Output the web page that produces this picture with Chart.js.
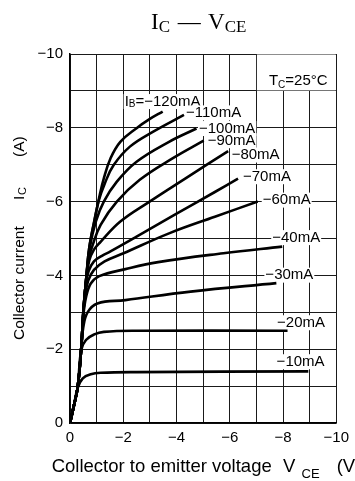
<!DOCTYPE html>
<html>
<head>
<meta charset="utf-8">
<script src="https://cdn.jsdelivr.net/npm/chart.js@4.4.1/dist/chart.umd.min.js"></script>
<style>
  body { margin: 0; background: #fff; }
  #wrap { position: relative; width: 355px; height: 481px; overflow: hidden; font-family: 'Liberation Sans', Arial, sans-serif; color: #000; }
  #wrap canvas { position: absolute; left: 0; top: 0; }
  .txt { position: absolute; white-space: nowrap; line-height: 1; }
  .title { font-family: 'Liberation Serif', 'Times New Roman', serif; font-size: 23px; left: 151px; top: 10px; }
  .title .sb { font-size: 17px; position: relative; top: 3px; }
  .title .dash { margin: 0 2px; }
  .xt { font-size: 18.5px; top: 457px; }
  .xt.sb { font-size: 13px; top: 467px; }
  #ytitle { position: absolute; left: 11px; top: 340px; width: 230px; height: 20px; transform: rotate(-90deg); transform-origin: left top; }
  #ytitle .txt { font-size: 15.5px; top: 0; }
  #ytitle .sb { font-size: 11px; top: 6px; }
</style>
</head>
<body>
<div id="wrap">
  <canvas id="ic-vce" width="355" height="481"></canvas>
  <div class="txt title">I<span class="sb">C</span> <span class="dash">—</span> V<span class="sb">CE</span></div>
  <div class="txt xt" style="left:51.7px">Collector to emitter voltage</div>
  <div class="txt xt" style="left:283px">V</div>
  <div class="txt xt sb" style="left:301.5px">CE</div>
  <div class="txt xt" style="left:336.7px">(V)</div>
  <div id="ytitle">
    <span class="txt" style="left:0">Collector current</span>
    <span class="txt" style="left:140px">I</span>
    <span class="txt sb" style="left:145px">C</span>
    <span class="txt" style="left:183px">(A)</span>
  </div>
</div>
<script>
// base current curves, [Vce (V), Ic (A)]
const ib120 = [[0,0],[-0.14,-0.45],[-0.29,-0.98],[-0.42,-2.0],[-0.5,-3.0],[-0.62,-4.0],[-0.72,-4.73],[-0.91,-5.46],[-1.09,-6.09],[-1.27,-6.63],[-1.52,-7.17],[-1.89,-7.62],[-2.5,-7.99],[-3.0,-8.24],[-3.48,-8.44]];
const ib110 = [[0,0],[-0.14,-0.45],[-0.29,-0.98],[-0.42,-2.0],[-0.5,-3.0],[-0.62,-4.0],[-0.72,-4.73],[-0.91,-5.46],[-1.09,-6.05],[-1.3,-6.48],[-1.64,-6.99],[-2.25,-7.49],[-3.11,-7.89],[-4.28,-8.35]];
const ib100 = [[0,0],[-0.14,-0.45],[-0.29,-0.98],[-0.42,-2.0],[-0.5,-3.0],[-0.62,-4.0],[-0.74,-4.75],[-0.97,-5.46],[-1.27,-6.0],[-1.76,-6.54],[-2.5,-7.08],[-3.72,-7.62],[-4.75,-7.98]];
const ib90  = [[0,0],[-0.14,-0.45],[-0.29,-0.98],[-0.42,-2.0],[-0.5,-3.0],[-0.62,-4.0],[-0.7,-4.45],[-0.85,-4.82],[-1.15,-5.37],[-1.76,-6.0],[-2.62,-6.59],[-3.85,-7.17],[-5.02,-7.65]];
const ib80  = [[0,0],[-0.14,-0.45],[-0.29,-0.98],[-0.42,-2.0],[-0.5,-3.0],[-0.61,-3.9],[-0.72,-4.4],[-0.9,-4.7],[-1.15,-4.91],[-1.89,-5.46],[-2.99,-6.0],[-4.34,-6.63],[-5.94,-7.37]];
const ib70  = [[0,0],[-0.14,-0.45],[-0.29,-0.98],[-0.42,-2.0],[-0.5,-3.0],[-0.6,-3.8],[-0.7,-4.12],[-0.9,-4.38],[-1.2,-4.53],[-1.52,-4.65],[-2.5,-5.05],[-3.97,-5.66],[-5.44,-6.26],[-6.31,-6.62]];
const ib60  = [[0,0],[-0.14,-0.45],[-0.29,-0.98],[-0.42,-2.0],[-0.5,-2.95],[-0.56,-3.4],[-0.68,-3.85],[-0.9,-4.15],[-1.3,-4.38],[-2.01,-4.6],[-3.72,-5.14],[-5.44,-5.59],[-7.05,-6.0]];
const ib40  = [[0,0],[-0.14,-0.45],[-0.29,-0.98],[-0.42,-2.0],[-0.5,-2.9],[-0.6,-3.4],[-0.78,-3.78],[-1.1,-3.98],[-2.08,-4.17],[-3.31,-4.36],[-5.76,-4.6],[-7.97,-4.78]];
const ib30  = [[0,0],[-0.14,-0.45],[-0.29,-0.98],[-0.42,-2.0],[-0.5,-2.6],[-0.66,-3.0],[-1.03,-3.24],[-2.08,-3.33],[-4.53,-3.56],[-7.75,-3.79]];
const ib20  = [[0,0],[-0.14,-0.45],[-0.29,-0.98],[-0.42,-1.98],[-0.6,-2.25],[-0.91,-2.4],[-1.27,-2.47],[-2.5,-2.5],[-8.17,-2.5]];
const ib10  = [[0,0],[-0.14,-0.45],[-0.29,-0.95],[-0.48,-1.21],[-0.78,-1.32],[-1.15,-1.36],[-2.5,-1.38],[-8.95,-1.4]];

const curves = [ib120, ib110, ib100, ib90, ib80, ib70, ib60, ib40, ib30, ib20, ib10];
const curveNames = ['\u2212120mA', '\u2212110mA', '\u2212100mA', '\u221290mA', '\u221280mA', '\u221270mA', '\u221260mA', '\u221240mA', '\u221230mA', '\u221220mA', '\u221210mA'];

const tickValues = [0, -2, -4, -6, -8, -10];
const tickLabels = ['0', '\u22122', '\u22124', '\u22126', '\u22128', '\u221210'];

// where each label sits relative to the end of its curve (px: left edge, middle)
const labelOffsets = [[-38, -10], [2, -2], [2.5, 0], [4, 0], [3.5, 4], [5, -2], [5, -1.5], [-10, -9], [-11, -8], [-10.5, -8], [-31.7, -9.6]];

const FONT = "'Liberation Sans', Arial, sans-serif";

function tickText(v) {
  const i = tickValues.indexOf(v);
  return i < 0 ? '' : tickLabels[i];
}

const curveLabelPlugin = {
  id: 'curveLabels',
  beforeDatasetsDraw(chart) {
    const ctx = chart.ctx;
    const xs = chart.scales.x, ys = chart.scales.y;
    ctx.save();

    // Tc box in the top right cells
    const bx0 = xs.getPixelForValue(-7) + 0.5, bx1 = xs.getPixelForValue(-10) - 0.5;
    const by0 = ys.getPixelForValue(-10) + 0.5, by1 = ys.getPixelForValue(-9) - 0.5;
    ctx.fillStyle = '#fff';
    ctx.fillRect(bx0, by0, bx1 - bx0, by1 - by0);
    ctx.fillStyle = '#000';
    ctx.textBaseline = 'alphabetic';
    ctx.textAlign = 'left';
    let tx = bx0 + 12;
    const tb = by0 + 30.5;
    ctx.font = '15px ' + FONT;
    ctx.fillText('T', tx, tb); tx += ctx.measureText('T').width;
    ctx.font = '10px ' + FONT;
    ctx.fillText('C', tx, tb + 3); tx += ctx.measureText('C').width;
    ctx.font = '15px ' + FONT;
    ctx.fillText('=25\u00b0C', tx, tb);

    // curve labels with white backing
    ctx.textBaseline = 'middle';
    curves.forEach((pts, k) => {
      const end = pts[pts.length - 1];
      const px = xs.getPixelForValue(end[0]) + labelOffsets[k][0];
      const py = ys.getPixelForValue(end[1]) + labelOffsets[k][1];
      const parts = k === 0
        ? [['I', 15, 0], ['B', 10, 3], ['=' + curveNames[k], 15, 0]]
        : [[curveNames[k], 15, 0]];
      let w = 0;
      parts.forEach(p => { ctx.font = p[1] + 'px ' + FONT; w += ctx.measureText(p[0]).width; });
      ctx.fillStyle = '#fff';
      ctx.fillRect(px - 1, py - 7.5, w + 2, 15);
      ctx.fillStyle = '#000';
      let x = px;
      parts.forEach(p => {
        ctx.font = p[1] + 'px ' + FONT;
        ctx.fillText(p[0], x, py + p[2]);
        x += ctx.measureText(p[0]).width;
      });
    });
    ctx.restore();
  }
};

const axisStyle = {
  type: 'linear',
  min: -10,
  max: 0,
  reverse: true,
  grid: { color: '#1a1a1a', lineWidth: 1, drawTicks: false },
  border: { display: true, color: '#000', width: 1.5 },
  ticks: {
    stepSize: 1,
    autoSkip: false,
    maxRotation: 0,
    color: '#000',
    font: { family: FONT, size: 15 },
    callback: v => tickText(v)
  }
};

new Chart(document.getElementById('ic-vce'), {
  type: 'line',
  data: {
    datasets: curves.map((pts, k) => ({
      label: curveNames[k],
      data: pts,
      borderColor: '#000',
      borderWidth: 2.6,
      pointRadius: 0,
      fill: false,
      tension: 0.4
    }))
  },
  options: {
    responsive: false,
    animation: false,
    events: [],
    layout: { padding: { top: 54, right: 13, left: 0, bottom: 0 } },
    plugins: { legend: { display: false }, tooltip: { enabled: false }, title: { display: false } },
    scales: {
      x: Object.assign({}, axisStyle, {
        ticks: Object.assign({}, axisStyle.ticks, { padding: 6 }),
        afterFit: s => { s.height = 58; }
      }),
      y: Object.assign({}, axisStyle, {
        ticks: Object.assign({}, axisStyle.ticks, { padding: 7 }),
        afterFit: s => { s.width = 70; }
      })
    }
  },
  plugins: [curveLabelPlugin]
});
</script>
</body>
</html>
